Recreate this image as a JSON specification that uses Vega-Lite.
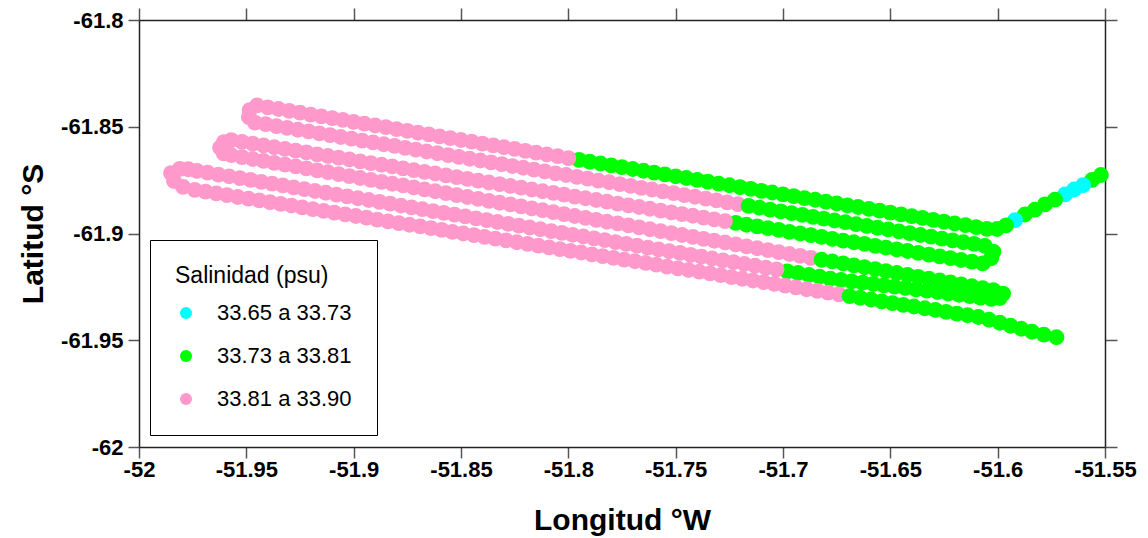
{
  "$schema": "https://vega.github.io/schema/vega-lite/v6.json",
  "width": 966,
  "height": 427,
  "autosize": {"type": "none"},
  "padding": {"left": 139, "top": 20, "right": 43, "bottom": 91},
  "background": "white",
  "config": {
    "view": {"stroke": null},
    "font": "Liberation Sans",
    "axis": {
      "grid": false,
      "domainColor": "#222222",
      "domainWidth": 1.5,
      "tickColor": "#555555",
      "tickWidth": 1.5,
      "tickSize": 11,
      "labelFont": "Liberation Sans",
      "labelFontSize": 22,
      "labelFontWeight": "bold",
      "labelColor": "black",
      "titleFont": "Liberation Sans",
      "titleFontSize": 30,
      "titleFontWeight": "bold",
      "titleColor": "black",
      "labelOverlap": false,
      "labelFlush": false
    }
  },
  "data": {"values": [
    {"lon":-51.5519,"lat":-61.8726,"s":"g"},{"lon":-51.5560,"lat":-61.8749,"s":"g"},{"lon":-51.5602,"lat":-61.8773,"s":"c"},{"lon":-51.5644,"lat":-61.8794,"s":"c"},{"lon":-51.5686,"lat":-61.8817,"s":"c"},{"lon":-51.5733,"lat":-61.8841,"s":"g"},{"lon":-51.5780,"lat":-61.8864,"s":"g"},{"lon":-51.5826,"lat":-61.8888,"s":"g"},{"lon":-51.5873,"lat":-61.8911,"s":"g"},{"lon":-51.5919,"lat":-61.8937,"s":"c"},{"lon":-51.5961,"lat":-61.8962,"s":"g"},{"lon":-51.6003,"lat":-61.8979,"s":"g"},
    {"lon":-51.605,"lat":-61.8978,"s":"g"},{"lon":-51.61,"lat":-61.8970,"s":"g"},{"lon":-51.615,"lat":-61.8961,"s":"g"},{"lon":-51.62,"lat":-61.8953,"s":"g"},{"lon":-51.625,"lat":-61.8944,"s":"g"},{"lon":-51.63,"lat":-61.8936,"s":"g"},{"lon":-51.635,"lat":-61.8927,"s":"g"},{"lon":-51.64,"lat":-61.8919,"s":"g"},{"lon":-51.645,"lat":-61.8910,"s":"g"},{"lon":-51.65,"lat":-61.8902,"s":"g"},
    {"lon":-51.655,"lat":-61.8893,"s":"g"},{"lon":-51.66,"lat":-61.8885,"s":"g"},{"lon":-51.665,"lat":-61.8876,"s":"g"},{"lon":-51.67,"lat":-61.8868,"s":"g"},{"lon":-51.675,"lat":-61.8859,"s":"g"},{"lon":-51.68,"lat":-61.8851,"s":"g"},{"lon":-51.685,"lat":-61.8842,"s":"g"},{"lon":-51.69,"lat":-61.8834,"s":"g"},{"lon":-51.695,"lat":-61.8825,"s":"g"},{"lon":-51.7,"lat":-61.8817,"s":"g"},
    {"lon":-51.705,"lat":-61.8808,"s":"g"},{"lon":-51.71,"lat":-61.8800,"s":"g"},{"lon":-51.715,"lat":-61.8791,"s":"g"},{"lon":-51.72,"lat":-61.8783,"s":"g"},{"lon":-51.725,"lat":-61.8774,"s":"g"},{"lon":-51.73,"lat":-61.8766,"s":"g"},{"lon":-51.735,"lat":-61.8757,"s":"g"},{"lon":-51.74,"lat":-61.8749,"s":"g"},{"lon":-51.745,"lat":-61.8740,"s":"g"},{"lon":-51.75,"lat":-61.8732,"s":"g"},
    {"lon":-51.755,"lat":-61.8723,"s":"g"},{"lon":-51.76,"lat":-61.8715,"s":"g"},{"lon":-51.765,"lat":-61.8706,"s":"g"},{"lon":-51.77,"lat":-61.8698,"s":"g"},{"lon":-51.775,"lat":-61.8689,"s":"g"},{"lon":-51.78,"lat":-61.8681,"s":"g"},{"lon":-51.785,"lat":-61.8672,"s":"g"},{"lon":-51.79,"lat":-61.8664,"s":"g"},{"lon":-51.795,"lat":-61.8655,"s":"g"},{"lon":-51.8,"lat":-61.8647,"s":"p"},
    {"lon":-51.805,"lat":-61.8638,"s":"p"},{"lon":-51.81,"lat":-61.8630,"s":"p"},{"lon":-51.815,"lat":-61.8621,"s":"p"},{"lon":-51.82,"lat":-61.8613,"s":"p"},{"lon":-51.825,"lat":-61.8604,"s":"p"},{"lon":-51.83,"lat":-61.8596,"s":"p"},{"lon":-51.835,"lat":-61.8587,"s":"p"},{"lon":-51.84,"lat":-61.8579,"s":"p"},{"lon":-51.845,"lat":-61.8570,"s":"p"},{"lon":-51.85,"lat":-61.8562,"s":"p"},
    {"lon":-51.855,"lat":-61.8553,"s":"p"},{"lon":-51.86,"lat":-61.8545,"s":"p"},{"lon":-51.865,"lat":-61.8536,"s":"p"},{"lon":-51.87,"lat":-61.8528,"s":"p"},{"lon":-51.875,"lat":-61.8519,"s":"p"},{"lon":-51.88,"lat":-61.8511,"s":"p"},{"lon":-51.885,"lat":-61.8502,"s":"p"},{"lon":-51.89,"lat":-61.8494,"s":"p"},{"lon":-51.895,"lat":-61.8485,"s":"p"},{"lon":-51.9,"lat":-61.8477,"s":"p"},
    {"lon":-51.905,"lat":-61.8468,"s":"p"},{"lon":-51.91,"lat":-61.8460,"s":"p"},{"lon":-51.915,"lat":-61.8451,"s":"p"},{"lon":-51.92,"lat":-61.8443,"s":"p"},{"lon":-51.925,"lat":-61.8434,"s":"p"},{"lon":-51.93,"lat":-61.8426,"s":"p"},{"lon":-51.935,"lat":-61.8417,"s":"p"},{"lon":-51.94,"lat":-61.8409,"s":"p"},{"lon":-51.945,"lat":-61.8400,"s":"p"},
    {"lon":-51.9485,"lat":-61.8422,"s":"p"},{"lon":-51.9488,"lat":-61.8455,"s":"p"},{"lon":-51.9460,"lat":-61.8481,"s":"p"},
    {"lon":-51.941,"lat":-61.8488,"s":"p"},{"lon":-51.936,"lat":-61.8497,"s":"p"},{"lon":-51.931,"lat":-61.8505,"s":"p"},{"lon":-51.926,"lat":-61.8514,"s":"p"},{"lon":-51.921,"lat":-61.8522,"s":"p"},{"lon":-51.916,"lat":-61.8531,"s":"p"},{"lon":-51.911,"lat":-61.8539,"s":"p"},{"lon":-51.906,"lat":-61.8548,"s":"p"},{"lon":-51.901,"lat":-61.8556,"s":"p"},{"lon":-51.896,"lat":-61.8565,"s":"p"},
    {"lon":-51.891,"lat":-61.8573,"s":"p"},{"lon":-51.886,"lat":-61.8582,"s":"p"},{"lon":-51.881,"lat":-61.8590,"s":"p"},{"lon":-51.876,"lat":-61.8599,"s":"p"},{"lon":-51.871,"lat":-61.8607,"s":"p"},{"lon":-51.866,"lat":-61.8616,"s":"p"},{"lon":-51.861,"lat":-61.8624,"s":"p"},{"lon":-51.856,"lat":-61.8633,"s":"p"},{"lon":-51.851,"lat":-61.8641,"s":"p"},{"lon":-51.846,"lat":-61.8650,"s":"p"},
    {"lon":-51.841,"lat":-61.8658,"s":"p"},{"lon":-51.836,"lat":-61.8667,"s":"p"},{"lon":-51.831,"lat":-61.8675,"s":"p"},{"lon":-51.826,"lat":-61.8684,"s":"p"},{"lon":-51.821,"lat":-61.8692,"s":"p"},{"lon":-51.816,"lat":-61.8701,"s":"p"},{"lon":-51.811,"lat":-61.8709,"s":"p"},{"lon":-51.806,"lat":-61.8718,"s":"p"},{"lon":-51.801,"lat":-61.8726,"s":"p"},{"lon":-51.796,"lat":-61.8735,"s":"p"},
    {"lon":-51.791,"lat":-61.8743,"s":"p"},{"lon":-51.786,"lat":-61.8752,"s":"p"},{"lon":-51.781,"lat":-61.8760,"s":"p"},{"lon":-51.776,"lat":-61.8769,"s":"p"},{"lon":-51.771,"lat":-61.8777,"s":"p"},{"lon":-51.766,"lat":-61.8786,"s":"p"},{"lon":-51.761,"lat":-61.8794,"s":"p"},{"lon":-51.756,"lat":-61.8803,"s":"p"},{"lon":-51.751,"lat":-61.8811,"s":"p"},{"lon":-51.746,"lat":-61.8820,"s":"p"},
    {"lon":-51.741,"lat":-61.8828,"s":"p"},{"lon":-51.736,"lat":-61.8837,"s":"p"},{"lon":-51.731,"lat":-61.8845,"s":"p"},{"lon":-51.726,"lat":-61.8854,"s":"p"},{"lon":-51.721,"lat":-61.8862,"s":"p"},{"lon":-51.716,"lat":-61.8871,"s":"g"},{"lon":-51.711,"lat":-61.8879,"s":"g"},{"lon":-51.706,"lat":-61.8888,"s":"g"},{"lon":-51.701,"lat":-61.8896,"s":"g"},{"lon":-51.696,"lat":-61.8905,"s":"g"},
    {"lon":-51.691,"lat":-61.8913,"s":"g"},{"lon":-51.686,"lat":-61.8922,"s":"g"},{"lon":-51.681,"lat":-61.8930,"s":"g"},{"lon":-51.676,"lat":-61.8939,"s":"g"},{"lon":-51.671,"lat":-61.8947,"s":"g"},{"lon":-51.666,"lat":-61.8956,"s":"g"},{"lon":-51.661,"lat":-61.8964,"s":"g"},{"lon":-51.656,"lat":-61.8973,"s":"g"},{"lon":-51.651,"lat":-61.8981,"s":"g"},{"lon":-51.646,"lat":-61.8990,"s":"g"},
    {"lon":-51.641,"lat":-61.8998,"s":"g"},{"lon":-51.636,"lat":-61.9007,"s":"g"},{"lon":-51.631,"lat":-61.9015,"s":"g"},{"lon":-51.626,"lat":-61.9024,"s":"g"},{"lon":-51.621,"lat":-61.9032,"s":"g"},{"lon":-51.616,"lat":-61.9041,"s":"g"},{"lon":-51.611,"lat":-61.9049,"s":"g"},{"lon":-51.606,"lat":-61.9058,"s":"g"},
    {"lon":-51.6020,"lat":-61.9085,"s":"g"},{"lon":-51.6030,"lat":-61.9116,"s":"g"},
    {"lon":-51.607,"lat":-61.9140,"s":"g"},{"lon":-51.612,"lat":-61.9132,"s":"g"},{"lon":-51.617,"lat":-61.9124,"s":"g"},{"lon":-51.622,"lat":-61.9115,"s":"g"},{"lon":-51.627,"lat":-61.9107,"s":"g"},{"lon":-51.632,"lat":-61.9099,"s":"g"},{"lon":-51.637,"lat":-61.9091,"s":"g"},{"lon":-51.642,"lat":-61.9082,"s":"g"},{"lon":-51.647,"lat":-61.9074,"s":"g"},{"lon":-51.652,"lat":-61.9066,"s":"g"},
    {"lon":-51.657,"lat":-61.9058,"s":"g"},{"lon":-51.662,"lat":-61.9049,"s":"g"},{"lon":-51.667,"lat":-61.9041,"s":"g"},{"lon":-51.672,"lat":-61.9033,"s":"g"},{"lon":-51.677,"lat":-61.9025,"s":"g"},{"lon":-51.682,"lat":-61.9016,"s":"g"},{"lon":-51.687,"lat":-61.9008,"s":"g"},{"lon":-51.692,"lat":-61.9000,"s":"g"},{"lon":-51.697,"lat":-61.8992,"s":"g"},{"lon":-51.702,"lat":-61.8983,"s":"g"},
    {"lon":-51.707,"lat":-61.8975,"s":"g"},{"lon":-51.712,"lat":-61.8967,"s":"g"},{"lon":-51.717,"lat":-61.8959,"s":"g"},{"lon":-51.722,"lat":-61.8950,"s":"g"},{"lon":-51.727,"lat":-61.8942,"s":"p"},{"lon":-51.732,"lat":-61.8934,"s":"p"},{"lon":-51.737,"lat":-61.8926,"s":"p"},{"lon":-51.742,"lat":-61.8917,"s":"p"},{"lon":-51.747,"lat":-61.8909,"s":"p"},{"lon":-51.752,"lat":-61.8901,"s":"p"},
    {"lon":-51.757,"lat":-61.8893,"s":"p"},{"lon":-51.762,"lat":-61.8884,"s":"p"},{"lon":-51.767,"lat":-61.8876,"s":"p"},{"lon":-51.772,"lat":-61.8868,"s":"p"},{"lon":-51.777,"lat":-61.8860,"s":"p"},{"lon":-51.782,"lat":-61.8851,"s":"p"},{"lon":-51.787,"lat":-61.8843,"s":"p"},{"lon":-51.792,"lat":-61.8835,"s":"p"},{"lon":-51.797,"lat":-61.8827,"s":"p"},{"lon":-51.802,"lat":-61.8818,"s":"p"},
    {"lon":-51.807,"lat":-61.8810,"s":"p"},{"lon":-51.812,"lat":-61.8802,"s":"p"},{"lon":-51.817,"lat":-61.8794,"s":"p"},{"lon":-51.822,"lat":-61.8785,"s":"p"},{"lon":-51.827,"lat":-61.8777,"s":"p"},{"lon":-51.832,"lat":-61.8769,"s":"p"},{"lon":-51.837,"lat":-61.8761,"s":"p"},{"lon":-51.842,"lat":-61.8752,"s":"p"},{"lon":-51.847,"lat":-61.8744,"s":"p"},{"lon":-51.852,"lat":-61.8736,"s":"p"},
    {"lon":-51.857,"lat":-61.8728,"s":"p"},{"lon":-51.862,"lat":-61.8719,"s":"p"},{"lon":-51.867,"lat":-61.8711,"s":"p"},{"lon":-51.872,"lat":-61.8703,"s":"p"},{"lon":-51.877,"lat":-61.8695,"s":"p"},{"lon":-51.882,"lat":-61.8686,"s":"p"},{"lon":-51.887,"lat":-61.8678,"s":"p"},{"lon":-51.892,"lat":-61.8670,"s":"p"},{"lon":-51.897,"lat":-61.8662,"s":"p"},{"lon":-51.902,"lat":-61.8653,"s":"p"},
    {"lon":-51.907,"lat":-61.8645,"s":"p"},{"lon":-51.912,"lat":-61.8637,"s":"p"},{"lon":-51.917,"lat":-61.8629,"s":"p"},{"lon":-51.922,"lat":-61.8620,"s":"p"},{"lon":-51.927,"lat":-61.8612,"s":"p"},{"lon":-51.932,"lat":-61.8604,"s":"p"},{"lon":-51.937,"lat":-61.8596,"s":"p"},{"lon":-51.942,"lat":-61.8587,"s":"p"},{"lon":-51.947,"lat":-61.8579,"s":"p"},{"lon":-51.952,"lat":-61.8571,"s":"p"},{"lon":-51.957,"lat":-61.8563,"s":"p"},
    {"lon":-51.9605,"lat":-61.8572,"s":"p"},{"lon":-51.9622,"lat":-61.8598,"s":"p"},{"lon":-51.9605,"lat":-61.8625,"s":"p"},
    {"lon":-51.957,"lat":-61.8633,"s":"p"},{"lon":-51.952,"lat":-61.8642,"s":"p"},{"lon":-51.947,"lat":-61.8651,"s":"p"},{"lon":-51.942,"lat":-61.8660,"s":"p"},{"lon":-51.937,"lat":-61.8669,"s":"p"},{"lon":-51.932,"lat":-61.8677,"s":"p"},{"lon":-51.927,"lat":-61.8686,"s":"p"},{"lon":-51.922,"lat":-61.8695,"s":"p"},{"lon":-51.917,"lat":-61.8704,"s":"p"},{"lon":-51.912,"lat":-61.8713,"s":"p"},
    {"lon":-51.907,"lat":-61.8722,"s":"p"},{"lon":-51.902,"lat":-61.8731,"s":"p"},{"lon":-51.897,"lat":-61.8740,"s":"p"},{"lon":-51.892,"lat":-61.8749,"s":"p"},{"lon":-51.887,"lat":-61.8758,"s":"p"},{"lon":-51.882,"lat":-61.8767,"s":"p"},{"lon":-51.877,"lat":-61.8775,"s":"p"},{"lon":-51.872,"lat":-61.8784,"s":"p"},{"lon":-51.867,"lat":-61.8793,"s":"p"},{"lon":-51.862,"lat":-61.8802,"s":"p"},
    {"lon":-51.857,"lat":-61.8811,"s":"p"},{"lon":-51.852,"lat":-61.8820,"s":"p"},{"lon":-51.847,"lat":-61.8829,"s":"p"},{"lon":-51.842,"lat":-61.8838,"s":"p"},{"lon":-51.837,"lat":-61.8847,"s":"p"},{"lon":-51.832,"lat":-61.8856,"s":"p"},{"lon":-51.827,"lat":-61.8864,"s":"p"},{"lon":-51.822,"lat":-61.8873,"s":"p"},{"lon":-51.817,"lat":-61.8882,"s":"p"},{"lon":-51.812,"lat":-61.8891,"s":"p"},
    {"lon":-51.807,"lat":-61.8900,"s":"p"},{"lon":-51.802,"lat":-61.8909,"s":"p"},{"lon":-51.797,"lat":-61.8918,"s":"p"},{"lon":-51.792,"lat":-61.8927,"s":"p"},{"lon":-51.787,"lat":-61.8936,"s":"p"},{"lon":-51.782,"lat":-61.8945,"s":"p"},{"lon":-51.777,"lat":-61.8953,"s":"p"},{"lon":-51.772,"lat":-61.8962,"s":"p"},{"lon":-51.767,"lat":-61.8971,"s":"p"},{"lon":-51.762,"lat":-61.8980,"s":"p"},
    {"lon":-51.757,"lat":-61.8989,"s":"p"},{"lon":-51.752,"lat":-61.8998,"s":"p"},{"lon":-51.747,"lat":-61.9007,"s":"p"},{"lon":-51.742,"lat":-61.9016,"s":"p"},{"lon":-51.737,"lat":-61.9025,"s":"p"},{"lon":-51.732,"lat":-61.9034,"s":"p"},{"lon":-51.727,"lat":-61.9042,"s":"p"},{"lon":-51.722,"lat":-61.9051,"s":"p"},{"lon":-51.717,"lat":-61.9060,"s":"p"},{"lon":-51.712,"lat":-61.9069,"s":"p"},
    {"lon":-51.707,"lat":-61.9078,"s":"p"},{"lon":-51.702,"lat":-61.9087,"s":"p"},{"lon":-51.697,"lat":-61.9096,"s":"p"},{"lon":-51.692,"lat":-61.9105,"s":"p"},{"lon":-51.687,"lat":-61.9114,"s":"p"},{"lon":-51.682,"lat":-61.9123,"s":"g"},{"lon":-51.677,"lat":-61.9131,"s":"g"},{"lon":-51.672,"lat":-61.9140,"s":"g"},{"lon":-51.667,"lat":-61.9149,"s":"g"},{"lon":-51.662,"lat":-61.9158,"s":"g"},
    {"lon":-51.657,"lat":-61.9167,"s":"g"},{"lon":-51.652,"lat":-61.9176,"s":"g"},{"lon":-51.647,"lat":-61.9185,"s":"g"},{"lon":-51.642,"lat":-61.9194,"s":"g"},{"lon":-51.637,"lat":-61.9203,"s":"g"},{"lon":-51.632,"lat":-61.9212,"s":"g"},{"lon":-51.627,"lat":-61.9220,"s":"g"},{"lon":-51.622,"lat":-61.9229,"s":"g"},{"lon":-51.617,"lat":-61.9238,"s":"g"},{"lon":-51.612,"lat":-61.9247,"s":"g"},
    {"lon":-51.607,"lat":-61.9256,"s":"g"},{"lon":-51.602,"lat":-61.9265,"s":"g"},
    {"lon":-51.5975,"lat":-61.9282,"s":"g"},{"lon":-51.5990,"lat":-61.9302,"s":"g"},
    {"lon":-51.603,"lat":-61.9306,"s":"g"},{"lon":-51.608,"lat":-61.9300,"s":"g"},{"lon":-51.613,"lat":-61.9293,"s":"g"},{"lon":-51.618,"lat":-61.9287,"s":"g"},{"lon":-51.623,"lat":-61.9281,"s":"g"},{"lon":-51.628,"lat":-61.9274,"s":"g"},{"lon":-51.633,"lat":-61.9268,"s":"g"},{"lon":-51.638,"lat":-61.9262,"s":"g"},{"lon":-51.643,"lat":-61.9255,"s":"g"},{"lon":-51.648,"lat":-61.9249,"s":"g"},
    {"lon":-51.653,"lat":-61.9243,"s":"g"},{"lon":-51.658,"lat":-61.9236,"s":"g"},{"lon":-51.663,"lat":-61.9230,"s":"g"},{"lon":-51.668,"lat":-61.9224,"s":"g"},{"lon":-51.673,"lat":-61.9217,"s":"g"},{"lon":-51.678,"lat":-61.9211,"s":"g"},{"lon":-51.683,"lat":-61.9202,"s":"g"},{"lon":-51.688,"lat":-61.9194,"s":"g"},{"lon":-51.693,"lat":-61.9185,"s":"g"},{"lon":-51.698,"lat":-61.9177,"s":"g"},
    {"lon":-51.703,"lat":-61.9168,"s":"p"},{"lon":-51.708,"lat":-61.9160,"s":"p"},{"lon":-51.713,"lat":-61.9151,"s":"p"},{"lon":-51.718,"lat":-61.9143,"s":"p"},{"lon":-51.723,"lat":-61.9134,"s":"p"},{"lon":-51.728,"lat":-61.9126,"s":"p"},{"lon":-51.733,"lat":-61.9117,"s":"p"},{"lon":-51.738,"lat":-61.9108,"s":"p"},{"lon":-51.743,"lat":-61.9100,"s":"p"},{"lon":-51.748,"lat":-61.9091,"s":"p"},
    {"lon":-51.753,"lat":-61.9083,"s":"p"},{"lon":-51.758,"lat":-61.9074,"s":"p"},{"lon":-51.763,"lat":-61.9066,"s":"p"},{"lon":-51.768,"lat":-61.9057,"s":"p"},{"lon":-51.773,"lat":-61.9049,"s":"p"},{"lon":-51.778,"lat":-61.9040,"s":"p"},{"lon":-51.783,"lat":-61.9031,"s":"p"},{"lon":-51.788,"lat":-61.9023,"s":"p"},{"lon":-51.793,"lat":-61.9014,"s":"p"},{"lon":-51.798,"lat":-61.9006,"s":"p"},
    {"lon":-51.803,"lat":-61.8997,"s":"p"},{"lon":-51.808,"lat":-61.8989,"s":"p"},{"lon":-51.813,"lat":-61.8980,"s":"p"},{"lon":-51.818,"lat":-61.8972,"s":"p"},{"lon":-51.823,"lat":-61.8963,"s":"p"},{"lon":-51.828,"lat":-61.8955,"s":"p"},{"lon":-51.833,"lat":-61.8946,"s":"p"},{"lon":-51.838,"lat":-61.8937,"s":"p"},{"lon":-51.843,"lat":-61.8929,"s":"p"},{"lon":-51.848,"lat":-61.8920,"s":"p"},
    {"lon":-51.853,"lat":-61.8912,"s":"p"},{"lon":-51.858,"lat":-61.8903,"s":"p"},{"lon":-51.863,"lat":-61.8895,"s":"p"},{"lon":-51.868,"lat":-61.8886,"s":"p"},{"lon":-51.873,"lat":-61.8878,"s":"p"},{"lon":-51.878,"lat":-61.8869,"s":"p"},{"lon":-51.883,"lat":-61.8860,"s":"p"},{"lon":-51.888,"lat":-61.8852,"s":"p"},{"lon":-51.893,"lat":-61.8843,"s":"p"},{"lon":-51.898,"lat":-61.8835,"s":"p"},
    {"lon":-51.903,"lat":-61.8826,"s":"p"},{"lon":-51.908,"lat":-61.8818,"s":"p"},{"lon":-51.913,"lat":-61.8809,"s":"p"},{"lon":-51.918,"lat":-61.8801,"s":"p"},{"lon":-51.923,"lat":-61.8792,"s":"p"},{"lon":-51.928,"lat":-61.8784,"s":"p"},{"lon":-51.933,"lat":-61.8775,"s":"p"},{"lon":-51.938,"lat":-61.8766,"s":"p"},{"lon":-51.943,"lat":-61.8758,"s":"p"},{"lon":-51.948,"lat":-61.8749,"s":"p"},
    {"lon":-51.953,"lat":-61.8741,"s":"p"},{"lon":-51.958,"lat":-61.8732,"s":"p"},{"lon":-51.963,"lat":-61.8724,"s":"p"},{"lon":-51.968,"lat":-61.8715,"s":"p"},{"lon":-51.973,"lat":-61.8707,"s":"p"},
    {"lon":-51.9770,"lat":-61.8699,"s":"p"},{"lon":-51.9810,"lat":-61.8697,"s":"p"},{"lon":-51.9851,"lat":-61.8717,"s":"p"},{"lon":-51.9837,"lat":-61.8754,"s":"p"},{"lon":-51.9795,"lat":-61.8782,"s":"p"},
    {"lon":-51.974,"lat":-61.8796,"s":"p"},{"lon":-51.969,"lat":-61.8804,"s":"p"},{"lon":-51.964,"lat":-61.8812,"s":"p"},{"lon":-51.959,"lat":-61.8820,"s":"p"},{"lon":-51.954,"lat":-61.8829,"s":"p"},{"lon":-51.949,"lat":-61.8837,"s":"p"},{"lon":-51.944,"lat":-61.8845,"s":"p"},{"lon":-51.939,"lat":-61.8853,"s":"p"},{"lon":-51.934,"lat":-61.8861,"s":"p"},{"lon":-51.929,"lat":-61.8869,"s":"p"},
    {"lon":-51.924,"lat":-61.8878,"s":"p"},{"lon":-51.919,"lat":-61.8886,"s":"p"},{"lon":-51.914,"lat":-61.8894,"s":"p"},{"lon":-51.909,"lat":-61.8902,"s":"p"},{"lon":-51.904,"lat":-61.8910,"s":"p"},{"lon":-51.899,"lat":-61.8918,"s":"p"},{"lon":-51.894,"lat":-61.8926,"s":"p"},{"lon":-51.889,"lat":-61.8935,"s":"p"},{"lon":-51.884,"lat":-61.8943,"s":"p"},{"lon":-51.879,"lat":-61.8951,"s":"p"},
    {"lon":-51.874,"lat":-61.8959,"s":"p"},{"lon":-51.869,"lat":-61.8967,"s":"p"},{"lon":-51.864,"lat":-61.8975,"s":"p"},{"lon":-51.859,"lat":-61.8983,"s":"p"},{"lon":-51.854,"lat":-61.8992,"s":"p"},{"lon":-51.849,"lat":-61.9000,"s":"p"},{"lon":-51.844,"lat":-61.9008,"s":"p"},{"lon":-51.839,"lat":-61.9016,"s":"p"},{"lon":-51.834,"lat":-61.9024,"s":"p"},{"lon":-51.829,"lat":-61.9032,"s":"p"},
    {"lon":-51.824,"lat":-61.9041,"s":"p"},{"lon":-51.819,"lat":-61.9049,"s":"p"},{"lon":-51.814,"lat":-61.9057,"s":"p"},{"lon":-51.809,"lat":-61.9065,"s":"p"},{"lon":-51.804,"lat":-61.9073,"s":"p"},{"lon":-51.799,"lat":-61.9081,"s":"p"},{"lon":-51.794,"lat":-61.9089,"s":"p"},{"lon":-51.789,"lat":-61.9098,"s":"p"},{"lon":-51.784,"lat":-61.9106,"s":"p"},{"lon":-51.779,"lat":-61.9114,"s":"p"},
    {"lon":-51.774,"lat":-61.9122,"s":"p"},{"lon":-51.769,"lat":-61.9130,"s":"p"},{"lon":-51.764,"lat":-61.9138,"s":"p"},{"lon":-51.759,"lat":-61.9146,"s":"p"},{"lon":-51.754,"lat":-61.9155,"s":"p"},{"lon":-51.749,"lat":-61.9163,"s":"p"},{"lon":-51.744,"lat":-61.9171,"s":"p"},{"lon":-51.739,"lat":-61.9179,"s":"p"},{"lon":-51.734,"lat":-61.9187,"s":"p"},{"lon":-51.729,"lat":-61.9195,"s":"p"},
    {"lon":-51.724,"lat":-61.9204,"s":"p"},{"lon":-51.719,"lat":-61.9212,"s":"p"},{"lon":-51.714,"lat":-61.9220,"s":"p"},{"lon":-51.709,"lat":-61.9228,"s":"p"},{"lon":-51.704,"lat":-61.9236,"s":"p"},{"lon":-51.699,"lat":-61.9244,"s":"p"},{"lon":-51.694,"lat":-61.9252,"s":"p"},{"lon":-51.689,"lat":-61.9261,"s":"p"},{"lon":-51.684,"lat":-61.9269,"s":"p"},{"lon":-51.679,"lat":-61.9277,"s":"p"},
    {"lon":-51.674,"lat":-61.9285,"s":"p"},{"lon":-51.669,"lat":-61.9293,"s":"g"},{"lon":-51.664,"lat":-61.9301,"s":"g"},{"lon":-51.659,"lat":-61.9309,"s":"g"},{"lon":-51.654,"lat":-61.9318,"s":"g"},{"lon":-51.649,"lat":-61.9326,"s":"g"},{"lon":-51.644,"lat":-61.9334,"s":"g"},{"lon":-51.639,"lat":-61.9342,"s":"g"},{"lon":-51.634,"lat":-61.9350,"s":"g"},{"lon":-51.629,"lat":-61.9358,"s":"g"},
    {"lon":-51.624,"lat":-61.9367,"s":"g"},{"lon":-51.619,"lat":-61.9375,"s":"g"},{"lon":-51.614,"lat":-61.9383,"s":"g"},{"lon":-51.609,"lat":-61.9391,"s":"g"},
    {"lon":-51.6040,"lat":-61.9404,"s":"g"},{"lon":-51.5990,"lat":-61.9418,"s":"g"},{"lon":-51.5940,"lat":-61.9432,"s":"g"},{"lon":-51.5890,"lat":-61.9446,"s":"g"},{"lon":-51.5840,"lat":-61.9460,"s":"g"},{"lon":-51.5785,"lat":-61.9474,"s":"g"},{"lon":-51.5726,"lat":-61.9486,"s":"g"}
  ]},
  "layer": [
    {
      "mark": {"type": "point", "opacity": 0},
      "encoding": {
        "x": {"field": "lon", "type": "quantitative", "scale": {"domain": [-52, -51.55], "nice": false, "zero": false},
              "axis": {"orient": "top", "labels": false, "title": null, "values": [-52, -51.95, -51.9, -51.85, -51.8, -51.75, -51.7, -51.65, -51.6, -51.55], "tickSize": 12}},
        "y": {"field": "lat", "type": "quantitative", "scale": {"domain": [-62, -61.8], "nice": false, "zero": false},
              "axis": {"orient": "right", "labels": false, "title": null, "values": [-62, -61.95, -61.9, -61.85, -61.8], "tickSize": 12}}
      }
    },
    {
      "mark": {"type": "point", "filled": true, "shape": "circle", "size": 250, "opacity": 1, "strokeWidth": 0},
      "encoding": {
        "x": {"field": "lon", "type": "quantitative", "scale": {"domain": [-52, -51.55], "nice": false, "zero": false},
              "axis": {"orient": "bottom", "title": "Longitud °W", "values": [-52, -51.95, -51.9, -51.85, -51.8, -51.75, -51.7, -51.65, -51.6, -51.55],
                       "format": ".2~f", "labelExpr": "replace(datum.label, '−', '-')", "labelPadding": 1, "titleY": 82, "titleBaseline": "alphabetic"}},
        "y": {"field": "lat", "type": "quantitative", "scale": {"domain": [-62, -61.8], "nice": false, "zero": false},
              "axis": {"orient": "left", "title": "Latitud °S", "values": [-62, -61.95, -61.9, -61.85, -61.8],
                       "format": ".2~f", "labelExpr": "replace(datum.label, '−', '-')", "labelPadding": 5, "titleX": -97, "titleY": 213.5, "titleAngle": 270, "titleBaseline": "alphabetic", "titleAlign": "center"}},
        "color": {"field": "s", "type": "nominal",
                  "scale": {"domain": ["c", "g", "p"], "range": ["#00FFFF", "#00FF00", "#FF99CC"]},
                  "legend": {"title": "Salinidad (psu)", "orient": "none", "legendX": 11, "legendY": 220,
                             "labelExpr": "datum.label == 'c' ? '33.65 a 33.73' : datum.label == 'g' ? '33.73 a 33.81' : '33.81 a 33.90'",
                             "titleFont": "Liberation Sans", "titleFontSize": 23, "titleFontWeight": "normal", "titleColor": "black", "titlePadding": 14,
                             "labelFont": "Liberation Sans", "labelFontSize": 22, "labelColor": "black", "labelOffset": 20,
                             "symbolType": "circle", "symbolSize": 144, "symbolStrokeWidth": 0, "symbolOpacity": 1,
                             "rowPadding": 21, "padding": 25, "strokeColor": "black", "fillColor": "white", "cornerRadius": 0}}
      }
    }
  ],
  "resolve": {"axis": {"x": "independent", "y": "independent"}}
}
